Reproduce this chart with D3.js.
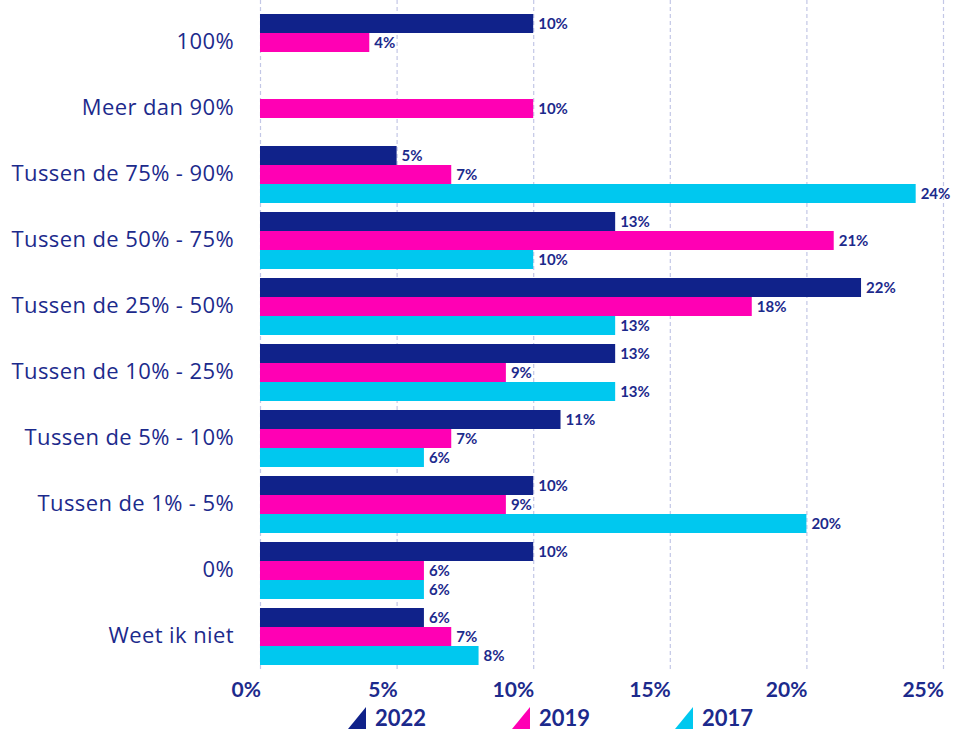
<!DOCTYPE html>
<html>
<head>
<meta charset="utf-8">
<script src="https://cdn.jsdelivr.net/npm/d3@7"></script>
<style>
  body { margin: 0; background: #fff; }
  svg { display: block; }
</style>
</head>
<body>
<div id="chart"></div>
<script>
// Chart data
const categories = ['100%', 'Meer dan 90%', 'Tussen de 75% - 90%', 'Tussen de 50% - 75%',
  'Tussen de 25% - 50%', 'Tussen de 10% - 25%', 'Tussen de 5% - 10%', 'Tussen de 1% - 5%',
  '0%', 'Weet ik niet'];
const seriesNames = ['2022', '2019', '2017'];
const values2022 = [10, null, 5, 13, 22, 13, 11, 10, 10, 6];
const values2019 = [4, 10, 7, 21, 18, 9, 7, 9, 6, 7];
const values2017 = [null, null, 24, 10, 13, 13, 6, 20, 6, 8];
const xTicks = [0, 5, 10, 15, 20, 25];

const colors = { '2022': '#10228a', '2019': '#ff00b4', '2017': '#00c8ef' };
const textColor = '#1c2a8c';

const width = 955, height = 734;
const svg = d3.select('#chart').append('svg')
  .attr('width', width)
  .attr('height', height);

const x = d3.scaleLinear().domain([0, 25]).range([260, 943]);
const y0 = d3.scaleBand().domain(categories).range([9.5, 669.5])
  .paddingInner(9 / 66).paddingOuter(4.5 / 66);
const y1 = d3.scaleBand().domain(seriesNames).range([0, y0.bandwidth()]);

// Grid lines
svg.append('g').selectAll('line')
  .data(xTicks)
  .join('line')
  .attr('x1', d => x(d) + 0.5).attr('x2', d => x(d) + 0.5)
  .attr('y1', 0).attr('y2', 670)
  .attr('stroke', '#c3c7e6')
  .attr('stroke-width', 1.2)
  .attr('stroke-dasharray', '4,3');

// Bars
const rows = categories.map((c, i) => ({
  cat: c,
  vals: [
    { s: '2022', v: values2022[i] },
    { s: '2019', v: values2019[i] },
    { s: '2017', v: values2017[i] }
  ].filter(d => d.v !== null)
}));

const groups = svg.append('g').selectAll('g')
  .data(rows)
  .join('g')
  .attr('transform', d => 'translate(0,' + y0(d.cat) + ')');

groups.selectAll('rect')
  .data(d => d.vals)
  .join('rect')
  .attr('x', x(0))
  .attr('y', d => y1(d.s))
  .attr('width', d => x(d.v) - x(0))
  .attr('height', y1.bandwidth())
  .attr('fill', d => colors[d.s]);

groups.selectAll('text')
  .data(d => d.vals)
  .join('text')
  .attr('x', d => x(d.v) + 5)
  .attr('y', d => y1(d.s) + y1.bandwidth() / 2)
  .attr('dy', '0.36em')
  .attr('font-family', 'Lato, "Open Sans", sans-serif')
  .attr('font-weight', 700)
  .attr('font-size', 15)
  .attr('fill', textColor)
  .text(d => d.v + '%');

// Category labels
svg.append('g').selectAll('text')
  .data(categories)
  .join('text')
  .attr('x', 234)
  .attr('y', d => y0(d) + y0.bandwidth() / 2)
  .attr('dy', '0.3em')
  .attr('text-anchor', 'end')
  .attr('font-family', '"Open Sans", sans-serif')
  .attr('font-weight', 400)
  .attr('font-size', 22)
  .attr('letter-spacing', 0.4)
  .attr('fill', textColor)
  .text(d => d);

// X axis tick labels
svg.append('g').selectAll('text')
  .data(xTicks)
  .join('text')
  .attr('x', d => x(d) + 1)
  .attr('y', 690)
  .attr('dy', '0.35em')
  .attr('text-anchor', 'end')
  .attr('font-family', 'Lato, "Open Sans", sans-serif')
  .attr('font-weight', 700)
  .attr('font-size', 21)
  .attr('fill', textColor)
  .text(d => d + '%');

// Legend
const legendX = { '2022': 348, '2019': 512, '2017': 675 };
const legend = svg.append('g').selectAll('g')
  .data(seriesNames)
  .join('g')
  .attr('transform', d => 'translate(' + legendX[d] + ',718)');

legend.append('path')
  .attr('d', 'M0,11 L18,-11 L18,11 Z')
  .attr('fill', d => colors[d]);

legend.append('text')
  .attr('x', 27)
  .attr('y', 0)
  .attr('dy', '0.36em')
  .attr('font-family', 'Lato, "Open Sans", sans-serif')
  .attr('font-weight', 700)
  .attr('font-size', 22)
  .attr('fill', textColor)
  .text(d => d);
</script>
</body>
</html>
